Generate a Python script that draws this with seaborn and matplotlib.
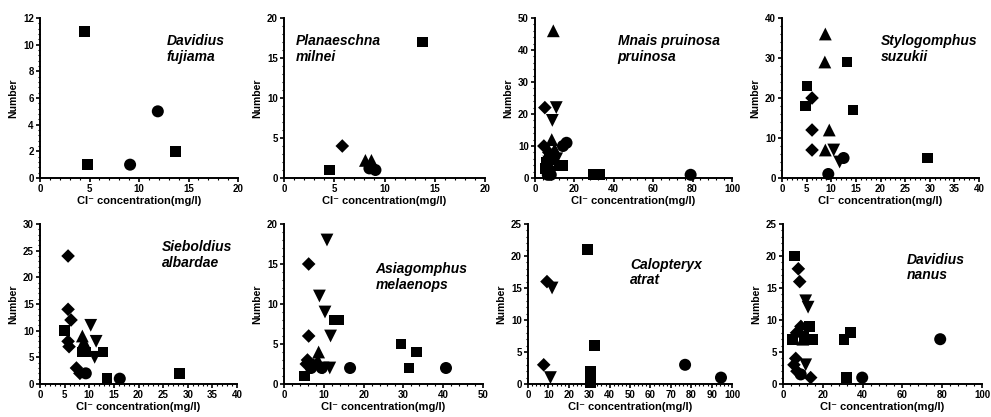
import numpy as np
import pandas as pd
import matplotlib
matplotlib.use("Agg")
import matplotlib.pyplot as plt
import seaborn as sns
from matplotlib.ticker import MultipleLocator, AutoMinorLocator

sns.set_style("ticks")
plt.rcParams['font.family'] = ['Liberation Sans', 'DejaVu Sans']
plt.rcParams['text.color'] = 'black'
plt.rcParams['axes.labelcolor'] = 'black'
plt.rcParams['xtick.color'] = 'black'
plt.rcParams['ytick.color'] = 'black'

# ---- data: (Cl- concentration, number, group) per species ----
# groups: G1 square, G2 circle, G3 diamond, G4 triangle up, G5 triangle down
fujiama_x = [4.5, 4.8, 13.7, 9.1, 11.9]
fujiama_y = [11, 1, 2, 1, 5]
fujiama_g = ['G1', 'G1', 'G1', 'G2', 'G2']

milnei_x = [4.5, 13.8, 5.8, 8.1, 8.7, 8.5, 9.1]
milnei_y = [1, 17, 4, 2.2, 2.2, 1.2, 1]
milnei_g = ['G1', 'G1', 'G3', 'G4', 'G4', 'G2', 'G2']

mnais_x = [9.3, 5.0, 10.8, 8.8, 8.5, 4.5, 16.0, 14.2, 29.5, 33.0, 79.0,
           5.5, 6.0, 7.0, 12.5, 14.0, 7.5, 6.0, 7.0, 9.5, 10.0, 7.0, 11.0, 8.0, 6.5]
mnais_y = [46, 22, 22, 18, 12, 10, 11, 10, 1, 1, 1,
           3, 5, 2, 4, 4, 7, 4, 8, 6, 9, 5, 6, 1, 1]
mnais_g = ['G4', 'G3', 'G5', 'G5', 'G4', 'G3', 'G2', 'G2', 'G1', 'G1', 'G2',
           'G1', 'G1', 'G1', 'G1', 'G1', 'G1', 'G3', 'G3', 'G4', 'G4', 'G5', 'G5', 'G2', 'G2']

suzukii_x = [8.8, 8.7, 9.6, 8.8, 5.1, 4.7, 13.2, 14.4, 29.5, 6.1, 6.1, 6.1, 10.5, 11.7, 12.5, 9.4]
suzukii_y = [36, 29, 12, 7, 23, 18, 29, 17, 5, 20, 12, 7, 7, 4, 5, 1]
suzukii_g = ['G4', 'G4', 'G4', 'G4', 'G1', 'G1', 'G1', 'G1', 'G1', 'G3', 'G3', 'G3',
             'G5', 'G5', 'G2', 'G2']

albardae_x = [5.7, 5.7, 6.3, 4.9, 5.7, 5.9, 8.6, 8.9, 10.3, 11.4, 11.1, 9.3, 12.8,
              13.6, 28.4, 7.4, 8.1, 9.3, 16.2, 8.6]
albardae_y = [24, 14, 12, 10, 8, 7, 9, 8, 11, 8, 5, 6, 6, 1, 2, 3, 2, 2, 1, 6]
albardae_g = ['G3', 'G3', 'G3', 'G1', 'G3', 'G3', 'G4', 'G4', 'G5', 'G5', 'G5', 'G1', 'G1',
              'G1', 'G1', 'G3', 'G3', 'G2', 'G2', 'G1']

melaenops_x = [10.8, 8.9, 10.3, 11.7, 9.8, 11.5, 6.2, 6.2, 5.9, 5.6, 13.7, 12.7, 29.4,
               33.2, 31.4, 5.2, 8.7, 8.5, 7.5, 16.6, 40.7, 6.8, 9.5]
melaenops_y = [18, 11, 9, 6, 2, 2, 15, 6, 3, 2.5, 8, 8, 5, 4, 2, 1, 4, 3, 2.5, 2, 2, 2, 2]
melaenops_g = ['G5', 'G5', 'G5', 'G5', 'G5', 'G5', 'G3', 'G3', 'G3', 'G3', 'G1', 'G1', 'G1',
               'G1', 'G1', 'G1', 'G4', 'G4', 'G4', 'G2', 'G2', 'G2', 'G2']

atrat_x = [29.2, 32.5, 30.8, 30.5, 9.3, 7.7, 11.8, 11.0, 77.0, 94.6]
atrat_y = [21, 6, 2, 0.2, 16, 3, 15, 1, 3, 1]
atrat_g = ['G1', 'G1', 'G1', 'G1', 'G3', 'G3', 'G5', 'G5', 'G2', 'G2']

nanus_x = [5.9, 30.6, 33.9, 31.9, 4.7, 14.7, 13.5, 10.5, 7.7, 8.4, 6.8, 11.4, 12.6,
           9.0, 39.8, 79.0, 6.4, 5.5, 7.0, 11.4, 13.9, 8.9, 10.0]
nanus_y = [20, 7, 8, 1, 7, 7, 9, 7.5, 18, 16, 8, 13, 12,
           9, 1, 7, 4, 3, 2, 3, 1, 1.5, 7]
nanus_g = ['G1', 'G1', 'G1', 'G1', 'G1', 'G1', 'G1', 'G1', 'G3', 'G3', 'G3', 'G5', 'G5',
           'G3', 'G2', 'G2', 'G3', 'G3', 'G3', 'G5', 'G3', 'G2', 'G4']

species = ["Davidius\nfujiama", "Planaeschna\nmilnei", "Mnais pruinosa\npruinosa",
           "Stylogomphus\nsuzukii", "Sieboldius\nalbardae", "Asiagomphus\nmelaenops",
           "Calopteryx\natrat", "Davidius\nnanus"]
xmax = [20, 20, 100, 40, 40, 50, 100, 100]
xstep = [5, 5, 20, 5, 5, 10, 10, 20]
ymax = [12, 20, 50, 40, 30, 20, 25, 25]
ystep = [2, 5, 10, 10, 5, 5, 5, 5]
datasets = [(fujiama_x, fujiama_y, fujiama_g), (milnei_x, milnei_y, milnei_g),
            (mnais_x, mnais_y, mnais_g), (suzukii_x, suzukii_y, suzukii_g),
            (albardae_x, albardae_y, albardae_g), (melaenops_x, melaenops_y, melaenops_g),
            (atrat_x, atrat_y, atrat_g), (nanus_x, nanus_y, nanus_g)]

# ---- layout ----
W, H = 991, 417
fig = plt.figure(figsize=(W / 100, H / 100), dpi=100)
lefts = [40, 284, 535, 782, 40, 284, 528, 783]
rights = [238, 485, 732, 979, 237, 483, 732, 982]
tops = [18, 18, 18, 18, 224, 224, 224, 224]
bottoms = [178, 178, 178, 178, 384, 384, 384, 384]
text_pos = [(0.64, 0.90), (0.06, 0.90), (0.42, 0.90), (0.50, 0.90),
            (0.62, 0.90), (0.46, 0.76), (0.50, 0.79), (0.62, 0.82)]

marker_map = {'G1': 's', 'G2': 'o', 'G3': 'D', 'G4': '^', 'G5': 'v'}
size_map = {'G1': 60, 'G2': 75, 'G3': 48, 'G4': 85, 'G5': 85}

for i in range(8):
    l, r, t, b = lefts[i], rights[i], tops[i], bottoms[i]
    ax = fig.add_axes([l / W, 1 - b / H, (r - l) / W, (b - t) / H])
    x, y, g = datasets[i]
    df = pd.DataFrame({'x': x, 'y': y, 'g': g})
    sns.scatterplot(data=df, x='x', y='y', style='g', size='g', sizes=size_map,
                    markers=marker_map, color='black', edgecolor='black', linewidth=0,
                    legend=False, ax=ax, zorder=3, clip_on=False)
    ax.set_xlim(0, xmax[i])
    ax.set_ylim(0, ymax[i])
    ax.xaxis.set_major_locator(MultipleLocator(xstep[i]))
    ax.yaxis.set_major_locator(MultipleLocator(ystep[i]))
    ax.xaxis.set_minor_locator(AutoMinorLocator(5))
    ax.yaxis.set_minor_locator(AutoMinorLocator(5))
    for s in ['top', 'right']:
        ax.spines[s].set_visible(False)
    for s in ['left', 'bottom']:
        ax.spines[s].set_linewidth(1.4)
        ax.spines[s].set_color('black')
    ax.tick_params(which='major', direction='out', length=3, width=1.2, pad=1.5,
                   labelsize=7, colors='black')
    ax.tick_params(which='minor', direction='out', length=1.5, width=0.8, colors='black')
    for lab in ax.get_xticklabels() + ax.get_yticklabels():
        lab.set_fontweight('bold')
    ax.set_xlabel("Cl⁻ concentration(mg/l)", fontsize=8, fontweight='bold', labelpad=1,
                  color='black')
    ax.set_ylabel("Number", fontsize=7.5, fontweight='bold', labelpad=3, color='black')
    tx, ty = text_pos[i]
    ax.text(tx, ty, species[i], transform=ax.transAxes, ha='left', va='top',
            fontsize=10, fontweight='bold', fontstyle='italic', linespacing=1.15,
            color='black')

fig.savefig("out.png", dpi=100)
